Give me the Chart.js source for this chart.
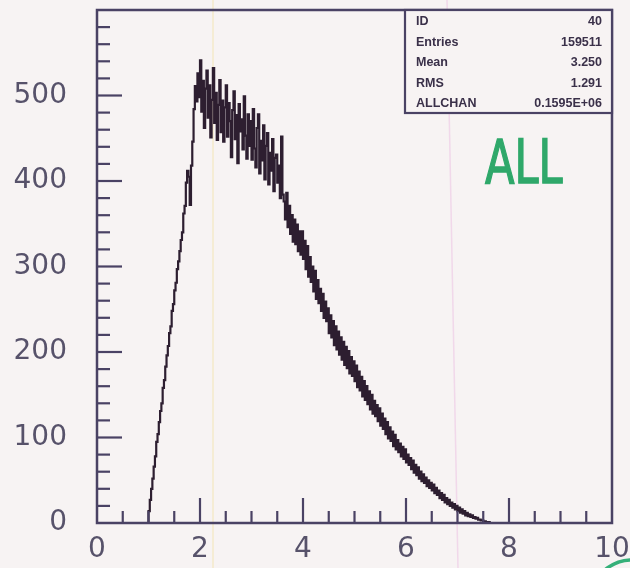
<!DOCTYPE html>
<html><head><meta charset="utf-8">
<script src="https://cdn.jsdelivr.net/npm/chart.js@4"></script>
<style>html,body{margin:0;padding:0;background:#f7f3f3;overflow:hidden}</style>
</head><body>
<canvas id="c" width="630" height="568"></canvas>
<script>
// ---- data ----
const binStart = 1.0;      // first filled bin (left edge)
const binWidth = 0.025;    // histogram bin width
const counts = [
  // 1.0 - 1.8
  6,14,27,40,52,66,78,95,104,118,131,140,158,167,183,196,207,222,230,248,256,272,281,297,306,318,331,340,362,371,398,412,
  // 1.8 - 2.0
  405,372,418,446,484,511,493,526,
  // 2.0 - 2.5
  498,541,481,517,462,508,529,474,512,451,495,532,468,503,448,489,518,457,494,446,
  // 2.5 - 3.0
  486,512,452,491,470,428,483,505,449,477,421,490,458,472,437,499,453,426,478,441,
  // 3.0 - 3.5
  470,425,484,438,416,462,478,409,447,424,465,402,441,456,396,433,412,449,388,427,
  // 3.5 - 4.0
  431,398,418,380,452,384,376,355,386,346,371,338,360,329,355,326,349,318,341,314,
  // 4.0 - 4.5
  341,309,330,297,324,288,311,282,300,271,295,262,284,257,274,248,268,240,259,236,
  // 4.5 - 5.0
  251,222,243,217,236,208,230,203,224,197,217,191,212,185,206,181,201,175,194,172,
  // 5.0 - 5.5
  189,166,184,159,177,155,171,148,166,144,160,139,154,133,150,128,143,125,138,119,
  // 5.5 - 6.0
  134,114,128,110,122,104,118,99,112,96,107,90,103,86,97,83,93,78,89,75,
  // 6.0 - 6.5
  86,71,80,68,76,63,73,59,68,56,65,52,60,49,57,47,53,43,50,41,
  // 6.5 - 7.0
  47,38,45,35,41,33,38,29,35,27,33,24,29,22,27,20,24,18,22,16,
  // 7.0 - 7.5
  20,14,18,12,16,11,14,9,12,8,10,7,9,6,7,5,6,4,4,3,
  // 7.5 - 7.7
  3,2,2,1,1,1,0,0
];
const xTickLabels = [0, 2, 4, 6, 8, 10];
const yTickLabels = [0, 100, 200, 300, 400, 500];
const statsLabels = ['ID', 'Entries', 'Mean', 'RMS', 'ALLCHAN'];
const statsValues = ['40', '159511', '3.250', '1.291', '0.1595E+06'];
const noteText = 'ALL';

// ---- build histogram points ----
const points = [{x: binStart, y: 0}];
counts.forEach((c, i) => points.push({x: binStart + i * binWidth, y: c}));
points.push({x: binStart + counts.length * binWidth, y: 0});

const AXIS = '#4a4264';
const BG = '#f7f3f3';

const decor = {
  id: 'decor',
  beforeDraw(chart) {
    const ctx = chart.ctx;
    ctx.save();
    ctx.fillStyle = BG;
    ctx.fillRect(0, 0, chart.width, chart.height);
    // faint scan lines
    ctx.strokeStyle = 'rgba(240,225,150,0.45)';
    ctx.lineWidth = 1.5;
    ctx.beginPath(); ctx.moveTo(213, 0); ctx.lineTo(213, 568); ctx.stroke();
    ctx.strokeStyle = 'rgba(235,190,225,0.5)';
    ctx.beginPath(); ctx.moveTo(447, 0); ctx.lineTo(458, 568); ctx.stroke();
    ctx.restore();
  },
  afterDraw(chart) {
    const ctx = chart.ctx;
    const a = chart.chartArea;
    const xs = chart.scales.x, ys = chart.scales.y;
    ctx.save();
    ctx.strokeStyle = AXIS;
    ctx.lineWidth = 2.5;
    ctx.strokeRect(a.left, a.top, a.right - a.left, a.bottom - a.top);
    // x ticks (inward)
    ctx.lineWidth = 2.2;
    for (let v = 0.5; v < 10; v += 0.5) {
      const px = xs.getPixelForValue(v);
      const len = (Math.abs(v / 2 - Math.round(v / 2)) < 1e-6) ? 25 : 12;
      ctx.beginPath(); ctx.moveTo(px, a.bottom); ctx.lineTo(px, a.bottom - len); ctx.stroke();
    }
    // y ticks (inward)
    for (let v = 20; v < 600; v += 20) {
      const py = ys.getPixelForValue(v);
      const len = (v % 100 === 0) ? 25 : 13;
      ctx.beginPath(); ctx.moveTo(a.left, py); ctx.lineTo(a.left + len, py); ctx.stroke();
    }
    // stats box
    const bx = a.right - 207, by = a.top, bw = 207, bh = 103;
    ctx.fillStyle = BG;
    ctx.fillRect(bx, by, bw, bh);
    ctx.lineWidth = 2.2;
    ctx.strokeRect(bx, by, bw, bh);
    ctx.fillStyle = '#3a3049';
    ctx.font = 'bold 12.5px "Liberation Sans", Arial, sans-serif';
    ctx.textBaseline = 'middle';
    statsLabels.forEach((l, i) => {
      const y = by + 12 + i * 20.5;
      ctx.textAlign = 'left';
      ctx.fillText(l, bx + 11, y);
      ctx.textAlign = 'right';
      ctx.fillText(statsValues[i], bx + bw - 10, y);
    });
    // handwritten note
    ctx.save();
    ctx.translate(485, 183);
    ctx.scale(0.72, 1);
    ctx.font = '60px "DejaVu Sans", sans-serif';
    ctx.fillStyle = '#2fa86a';
    ctx.strokeStyle = '#2fa86a';
    ctx.lineWidth = 1.5;
    ctx.textAlign = 'left';
    ctx.textBaseline = 'alphabetic';
    ctx.fillText(noteText, 0, 0);
    ctx.strokeText(noteText, 0, 0);
    ctx.restore();
    // green pen arc bottom-right
    ctx.strokeStyle = '#35b079';
    ctx.lineWidth = 3.5;
    ctx.beginPath();
    ctx.arc(632, 602, 42, Math.PI * 1.05, Math.PI * 1.6);
    ctx.stroke();
    ctx.restore();
  }
};

function zeroPad(s) { s.paddingTop = 0; s.paddingBottom = 0; s.paddingLeft = 0; s.paddingRight = 0; }

new Chart(document.getElementById('c'), {
  type: 'line',
  data: {
    datasets: [{
      data: points,
      stepped: 'after',
      borderColor: '#2d1e30',
      borderWidth: 2.2,
      pointRadius: 0,
      fill: false
    }]
  },
  options: {
    responsive: false,
    animation: false,
    devicePixelRatio: 1,
    layout: {padding: {top: 10, right: 18, left: 0, bottom: 0}},
    plugins: {legend: {display: false}, tooltip: {enabled: false}},
    scales: {
      x: {
        type: 'linear', min: 0, max: 10,
        grid: {display: false, drawTicks: false},
        border: {display: false},
        afterFit(s) { s.height = 45; zeroPad(s); },
        afterBuildTicks(s) { s.ticks = xTickLabels.map(v => ({value: v})); },
        ticks: {
          padding: 10, maxRotation: 0, autoSkip: false,
          color: '#57526a',
          font: {family: '"DejaVu Sans", sans-serif', size: 28},
          callback: v => String(v)
        }
      },
      y: {
        type: 'linear', min: 0, max: 600,
        grid: {display: false, drawTicks: false},
        border: {display: false},
        afterFit(s) { s.width = 97; zeroPad(s); },
        afterBuildTicks(s) { s.ticks = yTickLabels.map(v => ({value: v})); },
        ticks: {
          padding: 30, autoSkip: false,
          color: '#57526a',
          font: {family: '"DejaVu Sans", sans-serif', size: 28},
          callback: v => String(v)
        }
      }
    }
  },
  plugins: [decor]
});
</script>
</body></html>
